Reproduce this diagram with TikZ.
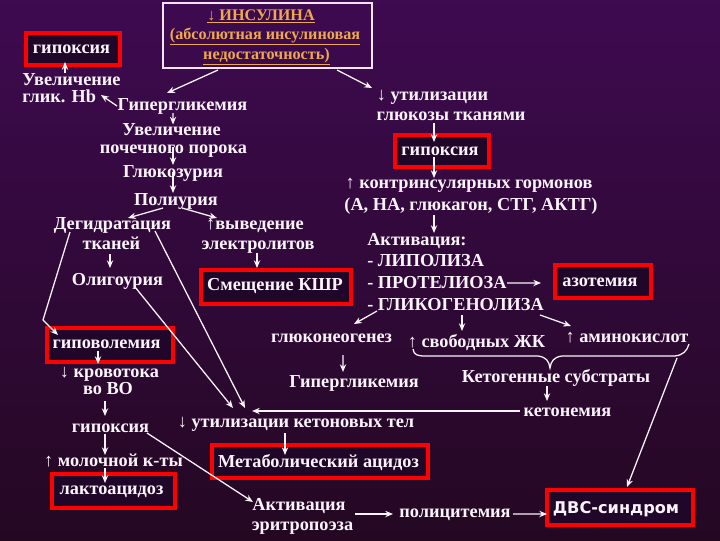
\documentclass[tikz,border=0pt]{standalone}
\usepackage{fontspec}
\setmainfont{Liberation Serif}
\newfontfamily\dvsfont{DejaVu Sans}
\usetikzlibrary{calc,arrows.meta}
\definecolor{bgtop}{RGB}{62,10,80}
\definecolor{bgbot}{RGB}{36,8,34}
\definecolor{txt}{RGB}{252,244,252}
\definecolor{gold}{RGB}{238,168,78}
\definecolor{boxin}{RGB}{32,6,40}
\definecolor{tbord}{RGB}{244,228,244}
\begin{document}
\begin{tikzpicture}[x=0.025cm,y=-0.025cm,
  tx/.style={text=txt,font=\bfseries\fontsize{13}{14}\selectfont,inner sep=0pt,anchor=base},
  txl/.style={tx,anchor=base west},
  gtx/.style={text=gold,font=\bfseries\fontsize{11.5}{13}\selectfont,inner sep=0pt,anchor=base},
  rbox/.style={draw=red,line width=2.6pt,fill=boxin,inner sep=0pt},
  arr/.style={draw=txt,line width=0.9pt,-{Stealth[length=5.5pt,width=4.5pt]}},
  ln/.style={draw=txt,line width=0.9pt}]
\fill[top color=bgtop,bottom color=bgbot] (0,0) rectangle (720,540);
\useasboundingbox (0,0) rectangle (720,540);

% boxes
\node[draw=tbord,line width=1.4pt,inner sep=0pt,minimum width=209*0.025cm,minimum height=65*0.025cm] (tb) at (267.5,35.5) {};
\node[rbox,minimum width=94*0.025cm,minimum height=32*0.025cm] (bxA) at (73,49) {};
\node[rbox,minimum width=94*0.025cm,minimum height=32*0.025cm] (bxB) at (442,151) {};
\node[rbox,minimum width=96*0.025cm,minimum height=33*0.025cm] (bxC) at (603,281.5) {};
\node[rbox,minimum width=150*0.025cm,minimum height=34*0.025cm] (bxD) at (276,287) {};
\node[rbox,minimum width=126*0.025cm,minimum height=34*0.025cm] (bxE) at (110,345) {};
\node[rbox,minimum width=123*0.025cm,minimum height=34*0.025cm] (bxF) at (113.5,491) {};
\node[rbox,minimum width=216*0.025cm,minimum height=33*0.025cm] (bxG) at (320,461.5) {};
\node[rbox,minimum width=146*0.025cm,minimum height=35*0.025cm] (bxH) at (620,507.5) {};

% top box text
\node[gtx] (ins1) at (261,20) {\underline{↓ ИНСУЛИНА}};
\node[gtx] (ins2) at (265,39) {\underline{(абсолютная инсулиновая}};
\node[gtx] (ins3) at (266.5,59) {\underline{недостаточность)}};

% texts
\node[tx] (hA) at (71.5,53) {гипоксия};
\node[txl] (uv1) at (22,85) {Увеличение};
\node[txl] (uv2) at (22,102) {глик. Hb};
\node[tx] (hg1) at (182.5,110) {Гипергликемия};
\node[tx] (ut1) at (432.5,100) {↓ утилизации};
\node[tx] (ut2) at (451,120) {глюкозы тканями};
\node[tx] (hB) at (440,155) {гипоксия};
\node[tx] (kt1) at (469,188) {↑ контринсулярных гормонов};
\node[tx] (kt2) at (471,210) {(А, НА, глюкагон, СТГ, АКТГ)};
\node[txl] (ak) at (367,245) {Активация:};
\node[txl] (lp) at (367,266) {- ЛИПОЛИЗА};
\node[txl] (pr) at (367,288) {- ПРОТЕЛИОЗА};
\node[txl] (gl) at (367,310) {- ГЛИКОГЕНОЛИЗА};
\node[tx] (az) at (600,286) {азотемия};
\node[tx] (up1) at (171.5,135.5) {Увеличение};
\node[tx] (up2) at (173.5,153) {почечного порока};
\node[tx] (gz) at (173,177) {Глюкозурия};
\node[tx] (pu) at (176,205) {Полиурия};
\node[tx] (dg1) at (112.5,229) {Дегидратация};
\node[tx] (dg2) at (111.5,249) {тканей};
\node[tx] (vy1) at (255,229) {↑выведение};
\node[tx] (vy2) at (258,249) {электролитов};
\node[tx] (ol) at (117.5,285) {Олигоурия};
\node[tx] (ksh) at (275,290) {Смещение КШР};
\node[tx] (gv) at (106.5,348) {гиповолемия};
\node[tx] (kr1) at (109.5,377) {↓ кровотока};
\node[tx] (kr2) at (108,394) {во ВО};
\node[tx] (hC) at (110.5,432) {гипоксия};
\node[tx] (ml) at (113.5,466) {↑ молочной к-ты};
\node[tx] (la) at (111.5,494) {лактоацидоз};
\node[tx] (gn) at (331.5,342) {глюконеогенез};
\node[tx] (hg2) at (354,387) {Гипергликемия};
\node[tx] (sv) at (476.5,347) {↑ свободных ЖК};
\node[tx] (am) at (627,342) {↑ аминокислот};
\node[tx] (ks) at (556,382) {Кетогенные субстраты};
\node[tx] (kn) at (567.5,416) {кетонемия};
\node[tx] (uk) at (296,427) {↓ утилизации кетоновых тел};
\node[tx] (ma) at (318.5,467) {Метаболический ацидоз};
\node[tx] (ae1) at (299,510) {Активация};
\node[tx] (ae2) at (302.5,530) {эритропоэза};
\node[tx] (pc) at (455,517) {полицитемия};
\node[tx,font=\dvsfont\bfseries\fontsize{11.5}{13}\selectfont] (dvs) at (616,513) {ДВС-синдром};

% connectors
\draw[arr] ($(uv1.base west)+(43,-12)$) -- ($(bxA.center)+(-8,13)$);
\draw[arr] ($(hg1.base)+(-65.5,-4)$) -- ($(uv2.base west)+(79,-7)$);
\draw[arr] ($(tb.center)+(-49.5,34.5)$) -- ($(hg1.base)+(-15.5,-17)$);
\draw[arr] ($(tb.center)+(69.5,34.5)$) -- ($(ut1.base)+(-60.5,-12)$);
\draw[arr] ($(hg1.base)+(-9.5,3)$) -- ($(up1.base)+(1.5,-11)$);
\draw[arr] ($(up2.base)+(-0.5,-6)$) -- ($(gz.base)+(0,-12)$);
\draw[arr] ($(gz.base)+(0,-5)$) -- ($(pu.base)+(-3,-12)$);
\draw[arr] ($(pu.base)+(-13,3)$) -- ($(dg1.base)+(15.5,-11)$);
\draw[arr] ($(pu.base)+(6,3)$) -- ($(vy1.base)+(-38,-11)$);
\draw[arr] ($(dg2.base)+(-1.5,5)$) -- ($(ol.base)+(-7.5,-17)$);
\draw[arr] ($(vy2.base)+(-1,4)$) -- ($(bxD.center)+(-19,-19)$);
\draw[arr] ($(dg1.base)+(-42.5,3)$) -- ($(bxE.center)+(-67,-25)$) -- ($(bxE.center)+(-52,-10)$);
\draw[arr] ($(dg1.base)+(42.5,2)$) -- ($(uk.base)+(-51,-19)$);
\draw[arr] ($(ol.base)+(17.5,2)$) -- ($(uk.base)+(-63,-19)$);
\draw[arr] ($(gv.base)+(-8.5,3)$) -- ($(kr1.base)+(-11.5,-13)$);
\draw[arr] ($(kr2.base)+(-3,7)$) -- ($(hC.base)+(-5.5,-16)$);
\draw[arr] ($(hC.base)+(-5.5,2)$) -- ($(ml.base)+(-8.5,-11)$);
\draw[arr] ($(ml.base)+(-8.5,2)$) -- ($(la.base)+(-6.5,-11)$);
\draw[arr] ($(hC.base)+(36.5,1)$) -- ($(ae1.base)+(-46,-8)$);
\draw[arr] ($(ae2.base)+(52.5,-16)$) -- ($(pc.base)+(-62,-3)$);
\draw[arr] ($(pc.base)+(58,-3)$) -- ($(bxH.center)+(-73,6.5)$);
\draw[arr] ($(am.base)+(50,16)$) -- ($(bxH.center)+(7,-20.5)$);
\draw[arr] ($(uk.base)+(-11,6)$) -- ($(bxG.center)+(-35,-6.5)$);
\draw[arr] ($(kn.base)+(-47.5,-5)$) -- ($(uk.base)+(-44,-16)$);
\draw[arr] ($(ks.base)+(-9,4)$) -- ($(kn.base)+(-20.5,-15)$);
\draw[arr] ($(ut2.base)+(-17,3)$) -- ($(bxB.center)+(-8,-9)$);
\draw[arr] ($(bxB.center)+(-8,6)$) -- ($(kt1.base)+(-35,-10)$);
\draw[arr] ($(kt2.base)+(-37,5)$) -- ($(ak.base west)+(67,-12)$);
\draw[arr] ($(pr.base west)+(140,-5)$) -- ($(bxC.center)+(-62,1.5)$);
\draw[arr] ($(gl.base west)+(10,1)$) -- ($(gn.base)+(22.5,-18)$);
\draw[arr] ($(gl.base west)+(95,5)$) -- ($(sv.base)+(-14.5,-16)$);
\draw[arr] ($(gl.base west)+(173,5)$) -- ($(am.base)+(-56,-16)$);
\draw[arr] ($(gn.base)+(11.5,13)$) -- ($(hg2.base)+(-11,-15)$);

% brace
\draw[ln] (413,349) .. controls (414,355) and (417,356) .. (426,356) -- (538,356) .. controls (546,357) and (549,361) .. (550,368) .. controls (551,361) and (554,357) .. (562,356) -- (675,356) .. controls (683,355) and (687,351) .. (689,344);
\end{tikzpicture}
\end{document}
